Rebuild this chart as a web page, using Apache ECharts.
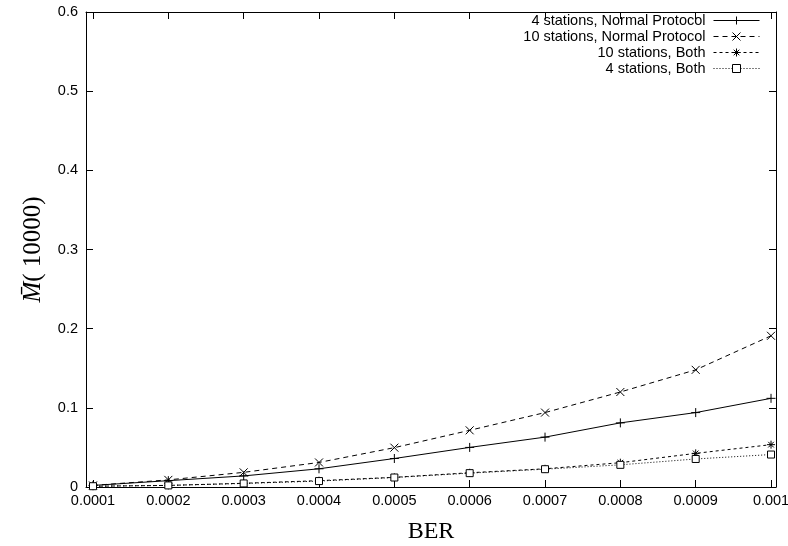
<!DOCTYPE html>
<html>
<head>
<meta charset="utf-8">
<script src="https://cdn.jsdelivr.net/npm/echarts@6/dist/echarts.min.js"></script>
<style>html,body{margin:0;padding:0;background:#fff}#c{width:788px;height:546px}</style>
</head>
<body>
<div id="c"></div>
<script>
var ber = [0.0001, 0.0002, 0.0003, 0.0004, 0.0005, 0.0006, 0.0007, 0.0008, 0.0009, 0.001];
var yTicks = [0, 0.1, 0.2, 0.3, 0.4, 0.5, 0.6];
var seriesNames = ['4 stations, Normal Protocol', '10 stations, Normal Protocol', '10 stations, Both', '4 stations, Both'];
var s4Normal = [0.002, 0.008, 0.014, 0.023, 0.036, 0.050, 0.063, 0.081, 0.094, 0.112];
var s10Normal = [0.002, 0.009, 0.0185, 0.031, 0.0497, 0.0716, 0.094, 0.120, 0.148, 0.191];
var s10Both = [0.001, 0.002, 0.0047, 0.008, 0.0122, 0.018, 0.023, 0.0307, 0.0425, 0.0535];
var s4Both = [0.001, 0.002, 0.0045, 0.0075, 0.012, 0.0175, 0.0225, 0.028, 0.0354, 0.041];

function pairs(ys) { return ber.map(function (x, i) { return [x, ys[i]]; }); }

var chart = echarts.init(document.getElementById('c'), null, {renderer: 'canvas'});
var sans = 'Liberation Sans';
var serif = 'Liberation Serif';
var xmin = 0.0000907, xmax = 0.0010066;
var tickStyle = {show: true, inside: true, length: 7, lineStyle: {color: '#000', width: 1}};
var lineAx = {show: true, onZero: false, lineStyle: {color: '#000', width: 1}};

function mkSeries(name, ys, symbol, size, dash, fill) {
  return {
    name: name, type: 'line', data: pairs(ys),
    symbol: symbol, symbolSize: size, showSymbol: true,
    lineStyle: {color: '#000', width: 1, type: dash},
    itemStyle: {color: fill, borderColor: '#000', borderWidth: 1},
    emphasis: {disabled: true}, animation: false, z: 3
  };
}

chart.setOption({
  animation: false,
  backgroundColor: '#fff',
  grid: {left: 86, right: 12, top: 12, bottom: 59, containLabel: false, outerBoundsMode: 'none'},
  legend: {
    orient: 'vertical', align: 'right', right: 23, top: 8,
    itemWidth: 46, itemHeight: 10, itemGap: 1,
    lineStyle: {width: 1},
    itemStyle: {borderWidth: 1},
    textStyle: {fontFamily: sans, fontSize: 14.5, color: '#000', lineHeight: 14, padding: [0, 3, 0, 0]},
    data: seriesNames
  },
  xAxis: [{
    type: 'value', position: 'bottom', min: xmin, max: xmax,
    axisLine: lineAx, splitLine: {show: false},
    axisTick: Object.assign({customValues: ber}, tickStyle),
    axisLabel: {customValues: ber, margin: 6, fontFamily: sans, fontSize: 14.5, color: '#000',
      formatter: function (v) { return String(parseFloat(v.toFixed(6))); }},
    name: 'BER', nameLocation: 'middle', nameGap: 33,
    nameTextStyle: {fontFamily: serif, fontSize: 24, color: '#000'}
  }, {
    type: 'value', position: 'top', min: xmin, max: xmax,
    axisLine: lineAx, splitLine: {show: false},
    axisTick: Object.assign({customValues: ber}, tickStyle),
    axisLabel: {show: false}
  }],
  yAxis: [{
    type: 'value', position: 'left', min: 0, max: 0.6, interval: 0.1,
    axisLine: lineAx, splitLine: {show: false}, axisTick: tickStyle,
    axisLabel: {margin: 8, fontFamily: sans, fontSize: 14.5, color: '#000'},
    name: '{m|M\u0304}{n|( 10000)}', nameLocation: 'middle', nameGap: 40,
    nameTextStyle: {color: '#000', rich: {
      m: {fontFamily: serif, fontStyle: 'italic', fontSize: 25, color: '#000'},
      n: {fontFamily: serif, fontSize: 25, color: '#000'}
    }}
  }, {
    type: 'value', position: 'right', min: 0, max: 0.6, interval: 0.1,
    axisLine: lineAx, splitLine: {show: false}, axisTick: tickStyle,
    axisLabel: {show: false}
  }],
  series: [
    mkSeries(seriesNames[0], s4Normal, 'path://M0,5L10,5M5,0L5,10', 9, 'solid', '#000'),
    mkSeries(seriesNames[1], s10Normal, 'path://M0,0L10,10M10,0L0,10', 8, [5, 4], '#000'),
    mkSeries(seriesNames[2], s10Both, 'path://M0,5L10,5M5,0L5,10M1.5,1.5L8.5,8.5M8.5,1.5L1.5,8.5', 8, [3, 3], '#000'),
    mkSeries(seriesNames[3], s4Both, 'path://M0,0L10,0L10,10L0,10Z', 7, [1, 2], '#fff')
  ]
});
</script>
</body>
</html>
